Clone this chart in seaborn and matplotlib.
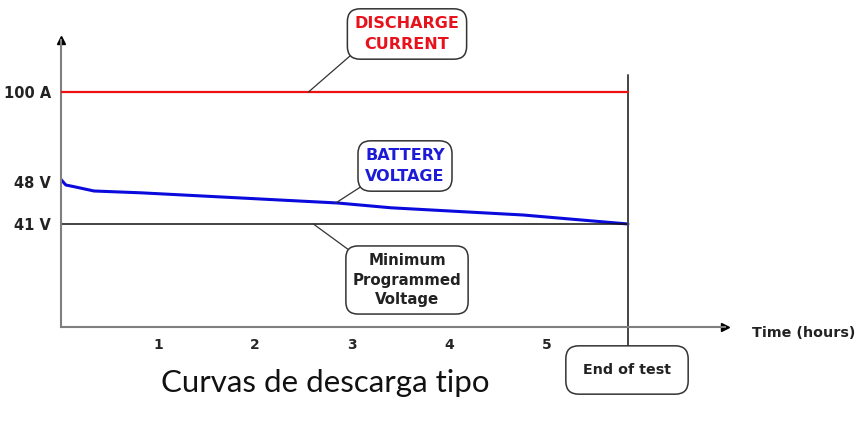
import matplotlib
matplotlib.use("Agg")
import matplotlib.pyplot as plt
import seaborn as sns

# data
time_h = [0.0, 0.05, 0.14, 0.34, 0.82, 2.85, 3.4, 4.76, 5.84]
battery_v = [48.4, 47.5, 47.2, 46.5, 46.2, 44.5, 43.7, 42.5, 41.0]
end_of_test = 5.84
current_a = [100, 100]
min_voltage = [41, 41]
x_ticks = [1, 2, 3, 4, 5]
v_ticks = [41, 48]
v_tick_labels = ["41 V", "48 V"]
a_ticks = [100]
a_tick_labels = ["100 A"]

sns.set_style("white")
plt.rcParams["font.family"] = ["DejaVu Sans"]

W, H = 856, 425
fig = plt.figure(figsize=(W / 100, H / 100), dpi=100)
# axes box in pixels: left 61, right 725, top 40, bottom 327
ax = fig.add_axes([61 / W, 1 - 327 / H, (725 - 61) / W, (327 - 40) / H])
ax2 = ax.twinx()

ax.set_xlim(0, 6.84)
ax.set_ylim(23.83, 71.67)
ax2.set_ylim(0, 122.1)

grey = "#7f7f7f"
sns.lineplot(x=time_h, y=battery_v, ax=ax, color="#0a0adc", lw=2.2, estimator=None, sort=False)
sns.lineplot(x=[0, end_of_test], y=min_voltage, ax=ax, color="#111111", lw=1.1, estimator=None)
sns.lineplot(x=[0, end_of_test], y=current_a, ax=ax2, color="#ee1111", lw=1.6, estimator=None)
ax.axvline(end_of_test, ymin=-0.063, ymax=0.878, color="#444444", lw=1.4, clip_on=False)

for a in (ax, ax2):
    for s in a.spines.values():
        s.set_visible(False)
    a.set_xlabel("")
    a.set_ylabel("")
ax.spines["left"].set_visible(True)
ax.spines["bottom"].set_visible(True)
ax.spines["left"].set_color(grey)
ax.spines["bottom"].set_color(grey)
ax.spines["left"].set_linewidth(1.5)
ax.spines["bottom"].set_linewidth(1.5)

# arrow heads at the axis ends
ax.plot(1, 0, ">", color="black", ms=6, transform=ax.transAxes, clip_on=False)
ax.plot(0, 1, "^", color="black", ms=6, transform=ax.transAxes, clip_on=False)

ax.set_xticks(x_ticks)
ax.set_xticklabels([str(t) for t in x_ticks], fontweight="bold", fontsize=10)
ax.set_yticks(v_ticks)
ax.set_yticklabels(v_tick_labels, fontweight="bold", fontsize=10.5, color="#222222")
ax.tick_params(length=0)
ax.tick_params(axis="x", pad=8)
ax.tick_params(axis="y", pad=7)

ax2.yaxis.set_ticks_position("left")
ax2.set_yticks(a_ticks)
ax2.set_yticklabels(a_tick_labels, fontweight="bold", fontsize=10.5, color="#222222")
ax2.tick_params(length=0, pad=7)

ax.text(752, H - 333, "Time (hours)", transform=None, fontweight="bold", fontsize=10.3,
        ha="left", va="center", color="#222222")

box = dict(boxstyle="round,pad=0.45,rounding_size=0.8", fc="white", ec="#333333", lw=1.1)
line = dict(arrowstyle="-", color="#333333", lw=0.9, shrinkA=0, shrinkB=0)

ax2.annotate("DISCHARGE\nCURRENT", xy=(2.55, 100), xytext=(407, H - 34),
             textcoords="figure pixels", ha="center", va="center", fontsize=11.5,
             fontweight="bold", color="#e8121c", bbox=box, linespacing=1.5,
             arrowprops=dict(line, relpos=(0, 0)))
ax.annotate("BATTERY\nVOLTAGE", xy=(2.83, 44.5), xytext=(405, H - 166),
            textcoords="figure pixels", ha="center", va="center", fontsize=11.5,
            fontweight="bold", color="#1c1cd8", bbox=box, linespacing=1.5,
            arrowprops=dict(line, relpos=(0, 0)))
ax.annotate("Minimum\nProgrammed\nVoltage", xy=(2.6, 41), xytext=(407, H - 280),
            textcoords="figure pixels", ha="center", va="center", fontsize=10.8,
            fontweight="bold", color="#222222", bbox=box, linespacing=1.4,
            arrowprops=dict(line, relpos=(0, 1)))
ax.annotate("End of test", xy=(627, H - 370), xycoords="figure pixels",
            ha="center", va="center", fontsize=10.3, fontweight="bold", color="#222222",
            bbox=dict(boxstyle="round,pad=1.2,rounding_size=0.9", fc="white", ec="#333333", lw=1.1))

fig.text(325 / W, 42 / H, "Curvas de descarga tipo", family=["Lato", "DejaVu Sans"],
         fontsize=22.5, ha="center", va="center", color="#111111")

fig.savefig("out.png", dpi=100)
